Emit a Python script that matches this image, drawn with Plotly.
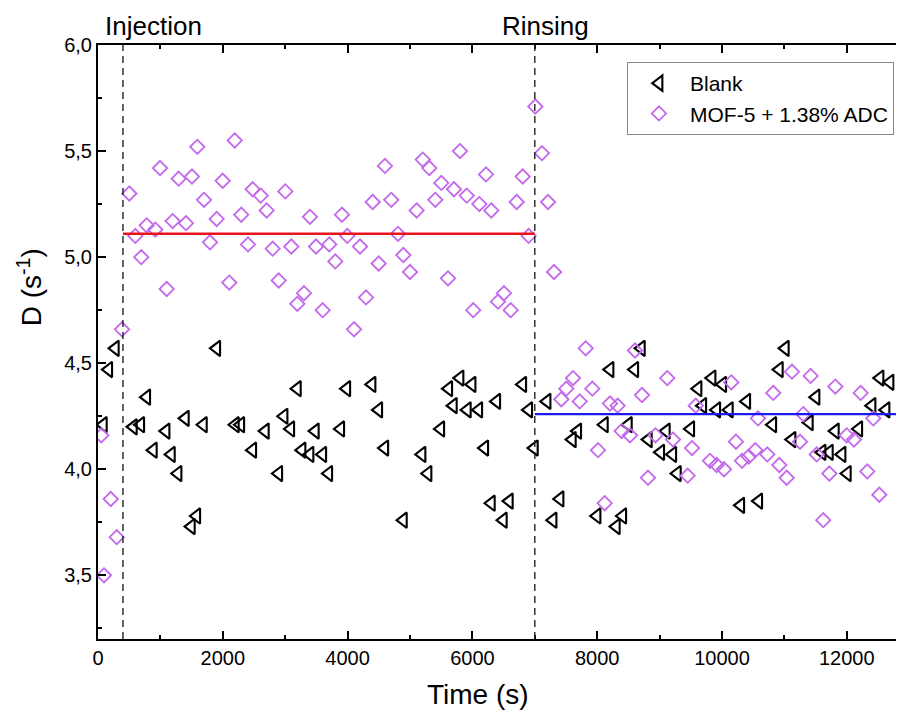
import plotly.graph_objects as go

# ---- data ----
blank_t = [85,171,277,566,684,780,886,1090,1175,1282,1399,1495,1582,1688,1902,2200,2287,2479,2681,2896,
           2981,3088,3194,3269,3397,3482,3601,3697,3889,3986,4391,4498,4595,4893,5192,5288,5492,5620,5694,5801,
           5918,5994,6101,6197,6303,6389,6495,6591,6806,6902,6992,7196,7292,7404,7601,7687,7997,8114,8205,8306,
           8409,8499,8601,8707,8819,9017,9107,9210,9284,9498,9615,9691,9840,9915,10011,10117,10300,10396,10588,10813,
           10918,11014,11122,11399,11506,11603,11720,11816,11923,12008,12191,12404,12532,12628,12692]
blank_d = [4.21,4.47,4.57,4.20,4.21,4.34,4.09,4.18,4.07,3.98,4.24,3.73,3.78,4.21,4.57,4.21,4.21,4.09,4.18,3.98,
           4.25,4.19,4.38,4.09,4.07,4.18,4.07,3.98,4.19,4.38,4.40,4.28,4.10,3.76,4.07,3.98,4.19,4.38,4.30,4.43,
           4.28,4.40,4.28,4.10,3.84,4.32,3.76,3.85,4.40,4.28,4.10,4.32,3.76,3.86,4.14,4.18,3.78,4.21,4.47,3.73,
           3.78,4.21,4.47,4.57,4.14,4.08,4.18,4.07,3.98,4.19,4.38,4.30,4.43,4.28,4.40,4.28,3.83,4.32,3.85,4.21,
           4.47,4.57,4.14,4.22,4.34,4.08,4.08,4.18,4.07,3.98,4.19,4.30,4.43,4.28,4.41]

mof_t = [53,96,204,300,385,
         502,598,694,780,918,994,1101,1197,1293,1410,1506,1591,1699,1795,1902,1998,2104,2191,2296,2404,
         2479,2607,2703,2800,2896,3002,3098,3194,3301,3397,3494,3601,3707,3803,3910,3995,4103,4199,4295,4402,
         4498,4599,4700,4808,4893,5000,5107,5204,5309,5405,5502,5609,5705,5801,5909,6014,6111,6218,6303,6410,
         6506,6614,6710,6806,6902,7008,7115,7212,7308,
         7425,7505,7612,7720,7816,7922,8013,8120,8205,8328,8392,8526,8606,8718,8814,8934,9123,9215,9450,9519,
         9580,9808,9915,10032,10149,10224,10321,10428,10534,10577,10726,10822,10918,11037,11122,11250,11303,11421,11518,11623,
         11720,11816,11998,12115,12223,12329,12425,12521]
mof_d = [4.16,3.50,3.86,3.68,4.66,
         5.30,5.10,5.00,5.15,5.13,5.42,4.85,5.17,5.37,5.16,5.38,5.52,5.27,5.07,5.18,5.36,4.88,5.55,5.20,5.06,
         5.32,5.29,5.22,5.04,4.89,5.31,5.05,4.78,4.83,5.19,5.05,4.75,5.06,4.98,5.20,5.10,4.66,5.05,4.81,5.26,
         4.97,5.43,5.27,5.11,5.01,4.93,5.22,5.46,5.42,5.27,5.35,4.90,5.32,5.50,5.29,4.75,5.25,5.39,5.22,4.79,
         4.83,4.75,5.26,5.38,5.10,5.71,5.49,5.26,4.93,
         4.33,4.38,4.43,4.32,4.57,4.38,4.09,3.84,4.31,4.30,4.18,4.16,4.56,4.35,3.96,4.16,4.43,4.14,3.97,4.10,
         4.30,4.04,4.02,4.00,4.41,4.13,4.04,4.06,4.09,4.24,4.07,4.36,4.02,3.96,4.46,4.13,4.26,4.44,4.07,3.76,
         3.98,4.39,4.16,4.14,4.36,3.99,4.24,3.88]

injection_t = 400
rinsing_t = 7000
end_t = 13500
injection_mean = 5.11
rinsing_mean = 4.26

x_ticks = [0, 2000, 4000, 6000, 8000, 10000, 12000]
y_ticks = [3.5, 4.0, 4.5, 5.0, 5.5, 6.0]
y_ticklabels = ["3,5", "4,0", "4,5", "5,0", "5,5", "6,0"]

FONT = "Liberation Sans, Arial, sans-serif"
violet = "#c468ec"

fig = go.Figure()
fig.add_trace(go.Scatter(
    x=blank_t, y=blank_d, mode="markers", name="Blank",
    marker=dict(symbol="triangle-left-open", size=13.5, color="black", line=dict(width=2.1, color="black"))))
fig.add_trace(go.Scatter(
    x=mof_t, y=mof_d, mode="markers", name="MOF-5 + 1.38% ADC",
    marker=dict(symbol="diamond-open", size=11, color=violet, line=dict(width=1.8, color=violet))))
fig.add_trace(go.Scatter(
    x=[injection_t, rinsing_t], y=[injection_mean, injection_mean], mode="lines",
    line=dict(color="#e8141c", width=2.5), showlegend=False, hoverinfo="skip"))
fig.add_trace(go.Scatter(
    x=[rinsing_t, end_t], y=[rinsing_mean, rinsing_mean], mode="lines",
    line=dict(color="#1a1aee", width=2.2), showlegend=False, hoverinfo="skip"))

for xv in [injection_t, rinsing_t]:
    fig.add_shape(type="line", xref="x", yref="paper", x0=xv, x1=xv, y0=0, y1=1,
                  line=dict(color="#222222", width=1.4, dash="7px,5px"))

fig.add_annotation(text="Injection", xref="paper", yref="paper", x=0.006, y=1.032,
                   xanchor="left", yanchor="middle", showarrow=False,
                   font=dict(family=FONT, size=26, color="black"))
fig.add_annotation(text="Rinsing", xref="paper", yref="paper", x=0.5558, y=1.032,
                   xanchor="center", yanchor="middle", showarrow=False,
                   font=dict(family=FONT, size=26, color="black"))
fig.add_annotation(text="Time (s)", xref="paper", yref="paper", x=0.4715, y=-0.094,
                   xanchor="center", yanchor="middle", showarrow=False,
                   font=dict(family=FONT, size=28, color="black"))
fig.add_annotation(text="D (s<sup>-1</sup>)", xref="paper", yref="paper", x=-0.085, y=0.593,
                   xanchor="center", yanchor="middle", textangle=-90, showarrow=False,
                   font=dict(family=FONT, size=28, color="black"))

# page body has an 8px margin: figure is sized/offset so the plot area lands where the reference has it
fig.update_layout(
    width=896, height=706,
    margin=dict(l=90, r=0, t=37, b=75, autoexpand=False),
    paper_bgcolor="white", plot_bgcolor="white",
    font=dict(family=FONT, size=20, color="black"),
    showlegend=True,
    legend=dict(x=0.6563, y=0.9714, xanchor="left", yanchor="top",
                bgcolor="white", bordercolor="#888888", borderwidth=1,
                font=dict(family=FONT, size=21, color="black"),
                itemwidth=52, tracegroupgap=0),
)
fig.update_xaxes(
    range=[0, 12917], tickvals=x_ticks, tickformat="d",
    showline=True, linecolor="black", linewidth=2, mirror="ticks",
    ticks="inside", ticklen=8, tickwidth=1.5, tickcolor="black",
    minor=dict(ticks="inside", dtick=1000, ticklen=4, tickwidth=1.5, tickcolor="black"),
    showgrid=False, zeroline=False,
    tickfont=dict(family=FONT, size=20, color="black"),
)
fig.update_yaxes(
    range=[3.2, 6.0], tickvals=y_ticks, ticktext=y_ticklabels,
    showline=True, linecolor="black", linewidth=2, mirror=False,
    ticks="inside", ticklen=8, tickwidth=1.5, tickcolor="black",
    minor=dict(ticks="inside", dtick=0.25, ticklen=4, tickwidth=1.5, tickcolor="black"),
    showgrid=False, zeroline=False,
    tickfont=dict(family=FONT, size=20, color="black"),
)

fig.write_html("out.html")
